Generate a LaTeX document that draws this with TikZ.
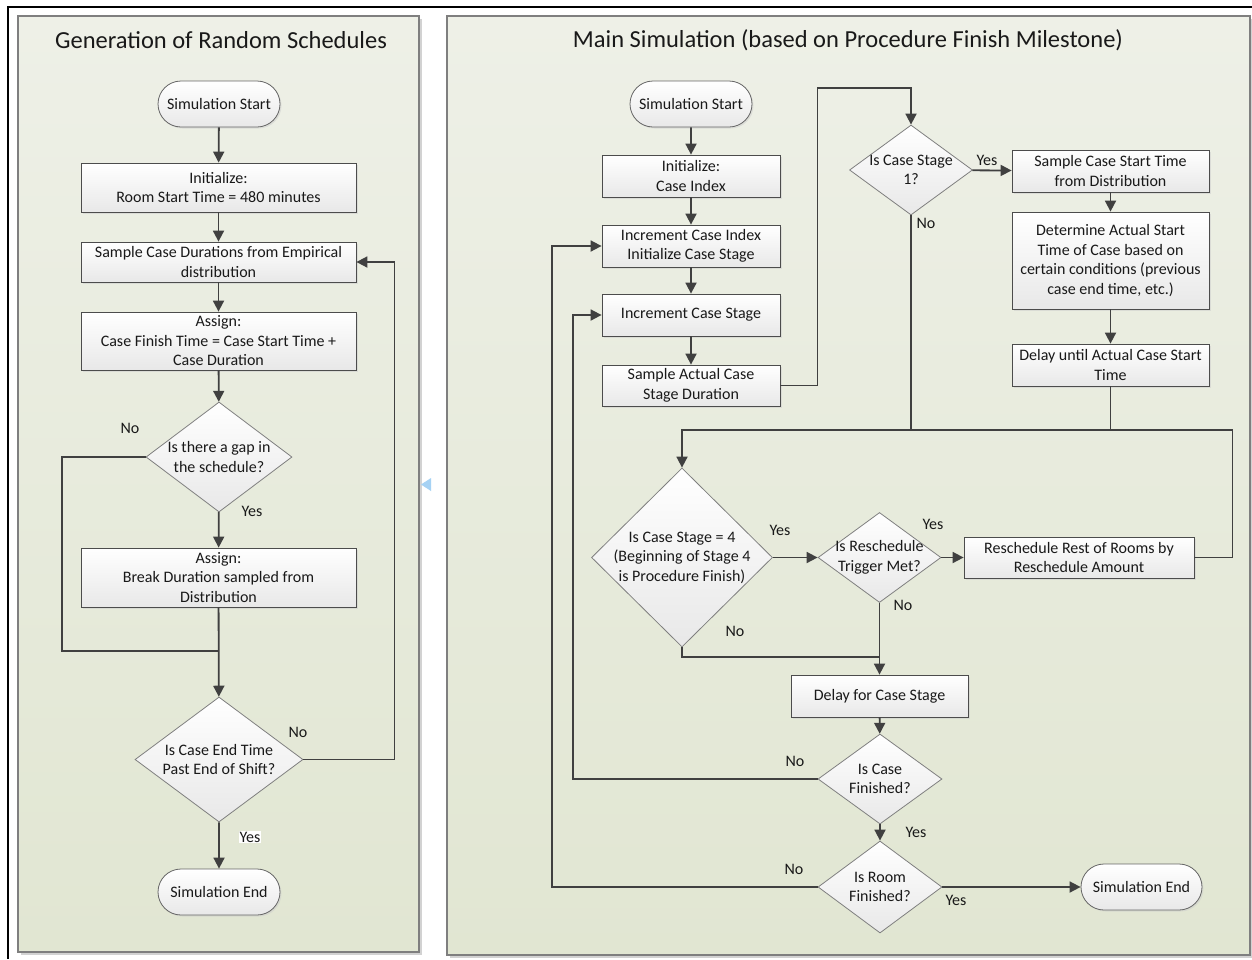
\documentclass[tikz,border=0pt]{standalone}
\usepackage{fontspec}
\setmainfont{Carlito}
\usepackage{tikz}
\usetikzlibrary{positioning,calc,arrows.meta,shapes.geometric,shapes.misc,shadows}
\usepackage{xcolor}

\definecolor{panelTop}{HTML}{EEF0E7}
\definecolor{panelBot}{HTML}{E1E6D2}
\definecolor{lineGray}{HTML}{404040}
\definecolor{edgeGray}{HTML}{7F7F7F}
\definecolor{markBlue}{HTML}{A6D2F4}

\begin{document}
\begin{tikzpicture}[x=1pt,y=-1pt,
  font=\fontsize{16}{19.5}\selectfont,
  panel/.style={draw=edgeGray,line width=1.5pt,top color=panelTop,bottom color=panelBot,
    drop shadow={shadow xshift=2.5pt,shadow yshift=-2.5pt,fill=black!35}},
  title/.style={font=\fontsize{24.5}{29}\selectfont,text=black!90},
  box/.style={rectangle,draw=black!70,line width=0.8pt,top color=white,bottom color=black!9,
    text=black!90,align=center,inner sep=1pt,
    drop shadow={shadow xshift=1.5pt,shadow yshift=-1.5pt,fill=black!20}},
  terminal/.style={rounded rectangle,draw=black!60,line width=0.8pt,top color=white,bottom color=black!9,
    text=black!90,inner sep=1pt,
    drop shadow={shadow xshift=1.5pt,shadow yshift=-1.5pt,fill=black!20}},
  decision/.style={diamond,draw=edgeGray,line width=0.8pt,top color=white,bottom color=black!9,
    text=black!90,align=center,inner sep=-12pt},
  flow/.style={draw=lineGray,line width=1.8pt,-{Triangle[length=11pt,width=11pt]}},
  link/.style={draw=lineGray,line width=1.8pt},
  lbl/.style={text=black!90,inner sep=1pt}]

\useasboundingbox (0,0) rectangle (1252,959);
\fill[white] (0,0) rectangle (1252,959);
\draw[black,line width=2pt] (1252,7) -- (8,7) -- (8,959);

\draw[panel] (18,16) rectangle (419,952);
\draw[panel] (447,16) rectangle (1250,955);
\fill[markBlue] (421,484.5) -- (431,478) -- (431,491) -- cycle;

\node[title] (ltitle) at (221,40) {Generation of Random Schedules};
\node[title] (mtitle) at (848,40) {Main Simulation (based on Procedure Finish Milestone)};

\node[terminal,minimum width=124pt,minimum height=46pt] (lstart) at (219,104) {Simulation Start};
\node[box,minimum width=275pt,minimum height=49pt] (linit) at (218.5,187.5) {Initialize:\\Room Start Time = 480 minutes};
\node[box,minimum width=275pt,minimum height=40pt] (lsample) at (218.5,262) {Sample Case Durations from Empirical\\distribution};
\node[box,minimum width=275pt,minimum height=58pt] (lassign) at (218.5,341) {Assign:\\Case Finish Time = Case Start Time +\\Case Duration};
\node[decision,minimum width=146pt,minimum height=110pt] (lgap) at (219,457) {Is there a gap in\\the schedule?};
\node[box,minimum width=275pt,minimum height=59pt] (lbreak) at (218.5,577.5) {Assign:\\Break Duration sampled from\\Distribution};
\node[decision,minimum width=168pt,minimum height=125pt] (lshift) at (219,759.5) {Is Case End Time\\Past End of Shift?};
\node[terminal,minimum width=124pt,minimum height=46pt] (lend) at (219,892) {Simulation End};
\coordinate (lmerge) at (219,651);

\draw[flow] (lstart) -- (linit);
\draw[flow] (linit) -- (lsample);
\draw[flow] (lsample) -- (lassign);
\draw[flow] (lassign) -- (lgap);
\draw[flow] (lgap) -- (lbreak);
\draw[flow] (lbreak) -- (lshift);
\draw[link] (lgap.west) -- ++(-84,0) |- (lmerge);
\draw[flow] (lshift.east) -- ++(91,0) |- (lsample.east);
\draw[flow] (lshift) -- (lend);

\node[lbl] (lgapno) at (130,428) {No};
\node[lbl] (lgapyes) at (252,511) {Yes};
\node[lbl] (lshiftno) at (298,732) {No};
\node[lbl,fill=white] (lshiftyes) at (250,837) {Yes};

\node[terminal,minimum width=124pt,minimum height=46pt] (mstart) at (691,104) {Simulation Start};
\node[box,minimum width=178pt,minimum height=42pt] (minit) at (691,176) {Initialize:\\Case Index};
\node[box,minimum width=178pt,minimum height=42pt] (mincidx) at (691,246) {Increment Case Index\\Initialize Case Stage};
\node[box,minimum width=178pt,minimum height=42pt] (mincstg) at (691,315) {Increment Case Stage};
\node[box,minimum width=178pt,minimum height=41pt] (msample) at (691,385.5) {Sample Actual Case\\Stage Duration};
\node[decision,minimum width=123pt,minimum height=90pt] (mstage1) at (911,170) {Is Case Stage\\1?};
\node[box,minimum width=197pt,minimum height=42pt] (mstarttime) at (1110.5,171) {Sample Case Start Time\\from Distribution};
\node[box,minimum width=197pt,minimum height=97pt] (mdetermine) at (1110.5,260.5) {Determine Actual Start\\Time of Case based on\\certain conditions (previous\\case end time, etc.)};
\node[box,minimum width=197pt,minimum height=42pt] (mdelay) at (1110.5,365) {Delay until Actual Case Start\\Time};
\node[decision,minimum width=181pt,minimum height=179pt] (mstage4) at (682,557.5) {Is Case Stage = 4\\(Beginning of Stage 4\\is Procedure Finish)};
\node[decision,minimum width=123pt,minimum height=90pt] (mtrigger) at (879.5,557.5) {Is Reschedule\\Trigger Met?};
\node[box,minimum width=230pt,minimum height=41pt] (mresched) at (1079,557.5) {Reschedule Rest of Rooms by\\Reschedule Amount};
\node[box,minimum width=177pt,minimum height=42pt] (mdelaystage) at (879.5,696) {Delay for Case Stage};
\node[decision,minimum width=124pt,minimum height=90pt] (mcasedone) at (880,779) {Is Case\\Finished?};
\node[decision,minimum width=124pt,minimum height=92pt] (mroomdone) at (880,887) {Is Room\\Finished?};
\node[terminal,minimum width=123pt,minimum height=46pt] (mend) at (1141.5,887) {Simulation End};
\coordinate (mtop) at (911,88);
\coordinate (mjoin) at (682,430);
\coordinate (mmerge) at (879.5,657);

\draw[flow] (mstart) -- (minit);
\draw[flow] (minit) -- (mincidx);
\draw[flow] (mincidx) -- (mincstg);
\draw[flow] (mincstg) -- (msample);
\draw[flow] (msample.east) -- ++(37,0) |- (mtop) -- (mstage1.north);
\draw[flow] (mstage1) -- (mstarttime);
\draw[flow] (mstarttime) -- (mdetermine);
\draw[flow] (mdetermine) -- (mdelay);
\draw[link] (mdelay.south) -- (mdelay.south |- mjoin);
\draw[link] (mstage1.south) -- (mstage1.south |- mjoin);
\draw[flow] (mresched.east) -- ++(38,0) |- (mjoin) -- (mstage4.north);
\draw[flow] (mstage4) -- (mtrigger);
\draw[flow] (mtrigger) -- (mresched);
\draw[flow] (mtrigger) -- (mdelaystage);
\draw[link] (mstage4.south) |- (mmerge);
\draw[flow] (mdelaystage) -- (mcasedone);
\draw[flow] (mcasedone.west) -- ++(-245,0) |- (mincstg.west);
\draw[flow] (mcasedone) -- (mroomdone);
\draw[flow] (mroomdone.west) -- ++(-266,0) |- (mincidx.west);
\draw[flow] (mroomdone) -- (mend);

\node[lbl] (mstage1yes) at (987,160) {Yes};
\node[lbl] (mstage1no) at (926,223) {No};
\node[lbl] (mstage4yes) at (780,530) {Yes};
\node[lbl] (mstage4no) at (735,631) {No};
\node[lbl] (mtriggeryes) at (933,524) {Yes};
\node[lbl] (mtriggerno) at (903,605) {No};
\node[lbl] (mcasedoneno) at (795,761) {No};
\node[lbl] (mcasedoneyes) at (916,832) {Yes};
\node[lbl] (mroomdoneno) at (794,869) {No};
\node[lbl] (mroomdoneyes) at (956,900) {Yes};
\end{tikzpicture}
\end{document}
